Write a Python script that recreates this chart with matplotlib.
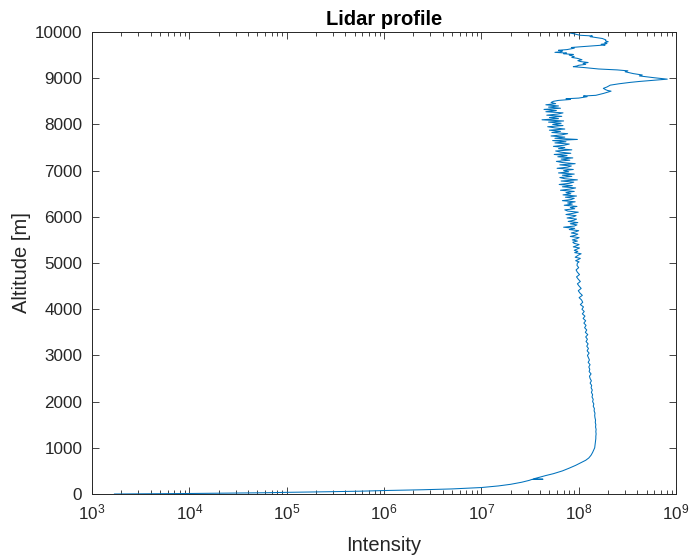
import numpy as np
import matplotlib
matplotlib.use("Agg")
import matplotlib.pyplot as plt
from matplotlib.ticker import LogLocator, NullFormatter, MultipleLocator

# ============================================================
# CONFIG
# ============================================================

OUTPUT_FILE = "out.png"
FIGSIZE = (6.94, 5.57)
DPI = 100

LINE_COLOR = "#0072BD"
AXES_COLOR = "#262626"
FONT = ["Liberation Sans", "DejaVu Sans"]

# ============================================================
# DATA
# ============================================================

# near field, 0 - 1000 m (intensity in counts)
ALT_NEAR = [0, 3, 7, 11, 18, 27, 36, 48, 62, 75, 92, 110, 140, 175, 210,
            255, 295, 315, 320, 325, 360, 400, 440, 500, 560, 620, 680,
            730, 780, 840, 900, 960]
INT_NEAR = [1.7e3, 3.0e3, 6.0e3, 1.0e4, 2.5e4, 6.0e4, 1.0e5, 2.5e5, 6.0e5,
            1.0e6, 2.5e6, 5.0e6, 1.0e7, 1.5e7, 2.0e7, 2.6e7, 3.1e7, 3.3e7,
            4.3e7, 3.4e7, 3.9e7, 4.6e7, 5.5e7, 6.8e7, 8.0e7, 9.3e7, 1.06e8,
            1.18e8, 1.27e8, 1.34e8, 1.39e8, 1.43e8]

# boundary layer, 1000 - 4950 m, 50 m gates (intensity in millions)
ALT_BL = [1000, 1050, 1100, 1150, 1200, 1250, 1300, 1350, 1400, 1450,
          1500, 1550, 1600, 1650, 1700, 1750, 1800, 1850, 1900, 1950,
          2000, 2050, 2100, 2150, 2200, 2250, 2300, 2350, 2400, 2450,
          2500, 2550, 2600, 2650, 2700, 2750, 2800, 2850, 2900, 2950,
          3000, 3050, 3100, 3150, 3200, 3250, 3300, 3350, 3400, 3450,
          3500, 3550, 3600, 3650, 3700, 3750, 3800, 3850, 3900, 3950,
          4000, 4050, 4100, 4150, 4200, 4250, 4300, 4350, 4400, 4450,
          4500, 4550, 4600, 4650, 4700, 4750, 4800, 4850, 4900, 4950]
INT_BL = [146, 147, 148, 149, 150, 150, 151, 150, 151, 149,
          150, 148, 149, 147, 146, 147, 144, 145, 141, 143,
          139, 141, 137, 139, 135, 138, 134, 136, 131, 135,
          131, 129, 134, 128, 130, 127, 131, 125, 129, 126,
          123, 128, 122, 126, 121, 125, 119, 123, 118, 124,
          117, 121, 115, 119, 113, 118, 111, 116, 109, 114,
          108, 112, 104, 110, 107, 101, 109, 103, 99, 106,
          101, 97, 104, 99, 95, 102, 97, 94, 100, 96]

# free troposphere, 5000 - 8475 m, 25 m gates (intensity in millions)
ALT_FT = [5000, 5025, 5050, 5075, 5100, 5125, 5150, 5175, 5200, 5225,
          5250, 5275, 5300, 5325, 5350, 5375, 5400, 5425, 5450, 5475,
          5500, 5525, 5550, 5575, 5600, 5625, 5650, 5675, 5700, 5725,
          5750, 5775, 5800, 5825, 5850, 5875, 5900, 5925, 5950, 5975,
          6000, 6025, 6050, 6075, 6100, 6125, 6150, 6175, 6200, 6225,
          6250, 6275, 6300, 6325, 6350, 6375, 6400, 6425, 6450, 6475,
          6500, 6525, 6550, 6575, 6600, 6625, 6650, 6675, 6700, 6725,
          6750, 6775, 6800, 6825, 6850, 6875, 6900, 6925, 6950, 6975,
          7000, 7025, 7050, 7075, 7100, 7125, 7150, 7175, 7200, 7225,
          7250, 7275, 7300, 7325, 7350, 7375, 7400, 7425, 7450, 7475,
          7500, 7525, 7550, 7575, 7600, 7625, 7650, 7675, 7700, 7725,
          7750, 7775, 7800, 7825, 7850, 7875, 7900, 7925, 7950, 7975,
          8000, 8025, 8050, 8075, 8100, 8125, 8150, 8175, 8200, 8225,
          8250, 8275, 8300, 8325, 8350, 8375, 8400, 8425, 8450, 8475]
INT_FT = [97, 101, 93, 99, 104, 92, 96, 100, 106, 91,
          98, 90, 96, 102, 88, 95, 101, 90, 87, 97,
          86, 95, 101, 82, 92, 98, 84, 93, 100, 80,
          91, 70, 90, 96, 82, 98, 78, 89, 95, 76,
          88, 94, 74, 87, 99, 77, 72, 91, 82, 96,
          71, 86, 77, 92, 68, 84, 90, 73, 95, 69,
          83, 74, 90, 65, 81, 93, 68, 86, 63, 80,
          89, 66, 97, 72, 64, 85, 68, 90, 62, 79,
          70, 88, 60, 77, 84, 64, 92, 68, 59, 81,
          66, 87, 61, 76, 56, 83, 65, 58, 85, 62,
          72, 55, 71, 80, 57, 74, 54, 97, 57, 72,
          52, 67, 77, 53, 65, 50, 72, 57, 48, 69,
          54, 66, 49, 70, 42, 62, 50, 67, 47, 61,
          69, 46, 59, 44, 65, 49, 62, 46, 58, 52]

# cloud layer, 8500 - 10000 m (intensity in millions)
ALT_CLOUD = [8500, 8520, 8540, 8555, 8570, 8600, 8615, 8630, 8670, 8700,
             8720, 8735, 8750, 8780, 8810, 8850, 8880, 8910, 8930, 8950,
             8980, 9010, 9050, 9070, 9100, 9140, 9160, 9180, 9200, 9230,
             9250, 9265, 9280, 9300, 9320, 9340, 9360, 9380, 9400, 9430,
             9450, 9470, 9500, 9515, 9530, 9545, 9560, 9575, 9590, 9605,
             9620, 9650, 9665, 9680, 9700, 9720, 9735, 9750, 9770, 9790,
             9810, 9830, 9860, 9880, 9900, 9915, 9930, 9960, 9980, 9990,
             10000]
INT_CLOUD = [55, 62, 82, 74, 100, 122, 112, 150, 179, 200,
             215, 198, 190, 179, 195, 211, 260, 338, 420, 550,
             813, 600, 420, 450, 364, 300, 320, 249, 160, 115,
             88, 96, 100, 118, 111, 125, 105, 98, 108, 97,
             85, 90, 80, 88, 70, 75, 57, 66, 68, 62,
             76, 90, 84, 103, 140, 187, 170, 195, 185, 201,
             188, 190, 175, 150, 131, 138, 103, 90, 81, 95,
             85]

# ============================================================
# PLOT
# ============================================================

def build_profile():
    """Junta os segmentos do perfil numa unica serie"""
    alt = np.concatenate([ALT_NEAR, ALT_BL, ALT_FT, ALT_CLOUD]).astype(float)
    inten = np.concatenate([
        np.asarray(INT_NEAR, dtype=float),
        np.asarray(INT_BL, dtype=float) * 1e6,
        np.asarray(INT_FT, dtype=float) * 1e6,
        np.asarray(INT_CLOUD, dtype=float) * 1e6,
    ])
    return alt, inten


def main():
    plt.rcParams["font.family"] = FONT
    plt.rcParams["mathtext.default"] = "regular"

    altitude, intensity = build_profile()

    fig = plt.figure(figsize=FIGSIZE, dpi=DPI)
    ax = fig.add_axes([0.1326, 0.1131, 0.8415, 0.8294])

    ax.plot(intensity, altitude, color=LINE_COLOR, linewidth=0.75)

    ax.set_xscale("log")
    ax.set_xlim(1e3, 1e9)
    ax.set_ylim(0, 10000)
    ax.xaxis.set_major_locator(LogLocator(base=10, numticks=10))
    ax.xaxis.set_minor_locator(LogLocator(base=10, subs=np.arange(2, 10), numticks=20))
    ax.xaxis.set_minor_formatter(NullFormatter())
    ax.yaxis.set_major_locator(MultipleLocator(1000))

    for side in ax.spines.values():
        side.set_color(AXES_COLOR)
        side.set_linewidth(0.7)

    ax.tick_params(which="both", direction="in", top=True, right=True,
                   colors=AXES_COLOR, labelcolor=AXES_COLOR, width=0.6)
    ax.tick_params(which="major", length=5, labelsize=12.3)
    ax.tick_params(which="minor", length=3)
    ax.tick_params(axis="x", which="major", pad=6)
    ax.tick_params(axis="y", which="major", pad=7)

    ax.set_title("Lidar profile", fontsize=14.5, fontweight="bold", color="black", pad=5)
    ax.set_xlabel("Intensity", fontsize=14.5, color=AXES_COLOR, labelpad=10)
    ax.set_ylabel("Altitude [m]", fontsize=14.5, color=AXES_COLOR, labelpad=3)

    fig.savefig(OUTPUT_FILE, dpi=DPI)
    plt.close(fig)


if __name__ == "__main__":
    main()
